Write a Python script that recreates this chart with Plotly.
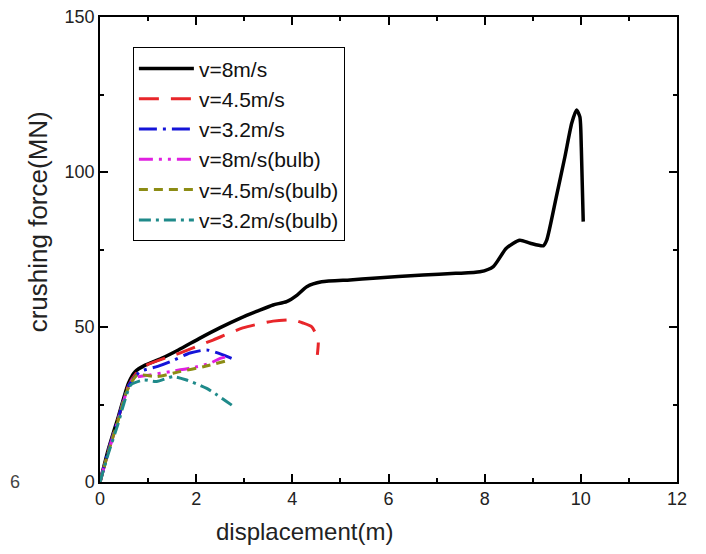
import plotly.graph_objects as go

# ---- data ----
x_v8 = [0, 0.17, 0.38, 0.59, 0.73, 0.94, 1.28, 1.63, 2.09, 2.5, 2.91, 3.3, 3.6, 3.88, 4.1, 4.3,
        4.61, 5.2, 5.68, 6.72, 7.4, 7.9, 8.18, 8.45, 8.73, 8.95, 9.22, 9.29, 9.49, 9.67, 9.81,
        9.91, 9.98, 10.01, 10.05]
y_v8 = [0, 10.3, 21, 31.8, 35.6, 37.7, 39.9, 42.6, 46.5, 49.8, 52.8, 55.3, 57.1, 58.2, 60.3, 63,
        64.6, 65.2, 65.7, 66.8, 67.3, 67.8, 69.5, 75.4, 78, 77, 76.2, 78, 92, 105, 115.7,
        120, 117.8, 108, 84]

x_v45 = [0, 0.17, 0.38, 0.59, 0.75, 0.97, 1.66, 2.35, 2.97, 3.6, 4.0, 4.22, 4.4, 4.5, 4.54, 4.52]
y_v45 = [0, 10, 20.5, 31, 35, 37.7, 41.6, 45.8, 49.7, 51.9, 52.3, 51.3, 50.1, 47.5, 45.3, 41]

x_v32 = [0, 0.17, 0.38, 0.59, 0.83, 1.2, 1.46, 1.87, 2.22, 2.56, 2.81]
y_v32 = [0, 10, 20.5, 31, 35.6, 37.3, 38.8, 41.6, 42.6, 41, 39.4]

x_v8b = [0, 0.17, 0.38, 0.55, 0.7, 1.04, 1.46, 1.87, 2.29, 2.5, 2.64]
y_v8b = [0, 9.5, 20, 29, 33.5, 34.5, 35.6, 36.7, 38.3, 39.9, 40.4]

x_v45b = [0, 0.17, 0.38, 0.55, 0.77, 1.18, 1.66, 2.15, 2.71]
y_v45b = [0, 9.5, 20, 29, 34.5, 34, 35.6, 37.2, 39.4]

x_v32b = [0, 0.17, 0.38, 0.5, 0.64, 0.91, 1.18, 1.52, 1.8, 2.22, 2.74]
y_v32b = [0, 9, 19, 25.5, 31.3, 32.9, 32.4, 34, 32.9, 30.2, 24.8]

names = ["v=8m/s", "v=4.5m/s", "v=3.2m/s", "v=8m/s(bulb)", "v=4.5m/s(bulb)", "v=3.2m/s(bulb)"]
xs = [x_v8, x_v45, x_v32, x_v8b, x_v45b, x_v32b]
ys = [y_v8, y_v45, y_v32, y_v8b, y_v45b, y_v32b]

# ---- styles ----
colors = ["#000000", "#E8262A", "#1414D8", "#E020E0", "#8C8C14", "#1F8A8A"]
dashes = ["solid", "20px,12px", "18px,6px,3px,6px", "14px,6px,3px,6px,3px,6px", "9px,6px", "12px,5px,3px,5px"]
widths = [3.5, 3, 3, 3, 3, 3]

fig = go.Figure()
for xv, yv, nm, c, d, w in zip(xs, ys, names, colors, dashes, widths):
    fig.add_trace(go.Scatter(x=xv, y=yv, mode="lines", name=nm,
                             line=dict(color=c, dash=d, width=w, shape="spline", smoothing=0.6)))

font_family = "Liberation Sans, Arial, sans-serif"
axis_common = dict(
    showgrid=False, zeroline=False, showline=True, linecolor="black", linewidth=1.5,
    mirror="ticks", ticks="inside", ticklen=8, tickwidth=1.5, tickcolor="black",
    tickfont=dict(family=font_family, size=18, color="#222"), automargin=False,
    ticklabeloverflow="allow",
)

fig.update_xaxes(range=[0, 12], dtick=2, tick0=0,
                 minor=dict(dtick=1, ticks="inside", ticklen=4, tickwidth=1.5, tickcolor="black"),
                 **axis_common)
fig.update_yaxes(range=[0, 150], dtick=50, tick0=0,
                 minor=dict(dtick=25, ticks="inside", ticklen=4, tickwidth=1.5, tickcolor="black"),
                 **axis_common)

fig.update_layout(
    width=698, height=546,
    margin=dict(l=92, r=29, t=9, b=72),
    paper_bgcolor="white", plot_bgcolor="white",
    font=dict(family=font_family, color="#222"),
    showlegend=True,
    legend=dict(x=0.057, y=0.935, xanchor="left", yanchor="top",
                bgcolor="white", bordercolor="black", borderwidth=1,
                font=dict(family=font_family, size=21, color="#111"),
                itemwidth=55, tracegroupgap=0),
    annotations=[
        dict(text="displacement(m)", x=0.355, y=-0.1075, xref="paper", yref="paper",
             xanchor="center", yanchor="middle", showarrow=False,
             font=dict(family=font_family, size=24, color="#222")),
        dict(text="crushing force(MN)", x=-0.107, y=0.559, xref="paper", yref="paper",
             xanchor="center", yanchor="middle", textangle=-90, showarrow=False,
             font=dict(family=font_family, size=26, color="#222")),
        dict(text="6", x=-0.159, y=0, xref="paper", yref="paper",
             xanchor="left", yanchor="middle", showarrow=False,
             font=dict(family=font_family, size=18, color="#444")),
    ],
)

fig.write_html("out.html")
